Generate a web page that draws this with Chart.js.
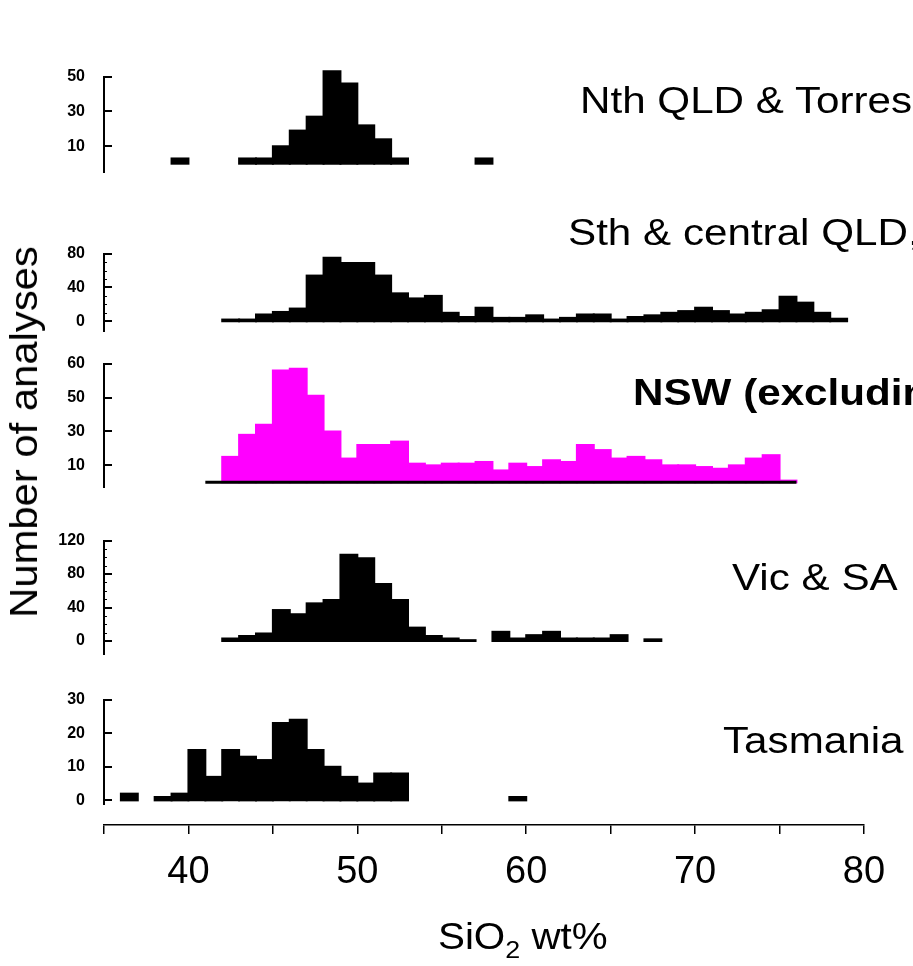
<!DOCTYPE html>
<html>
<head>
<meta charset="utf-8">
<script src="https://cdn.jsdelivr.net/npm/chart.js@4/dist/chart.umd.min.js"></script>
<style>
  body { margin: 0; width: 913px; height: 966px; overflow: hidden; background: #fff; position: relative;
         font-family: "Liberation Sans", Arial, Helvetica, sans-serif; color: #000; }
  canvas { position: absolute; left: 0; }
  .title { position: absolute; white-space: nowrap; font-size: 37px; line-height: 1;
           transform-origin: 0 0; transform: scaleX(1.14); }
  .bold { font-weight: bold; }
  #yTitle { position: absolute; left: 24px; top: 432px; white-space: nowrap; font-size: 38px; line-height: 1;
            transform-origin: 0 0; transform: rotate(-90deg) scaleX(1.1) translate(-50%, -50%); }
  #xTitle { position: absolute; left: 438px; top: 919px; white-space: nowrap; font-size: 36px; line-height: 1;
            transform-origin: 0 0; transform: scaleX(1.12); }
  #xTitle span { font-size: 24px; position: relative; top: 9px; }
</style>
</head>
<body>
<!-- y tick labels reserve ~21px above and below each plot area -->
<canvas id="nthChart" width="913" height="137" style="top:56px"></canvas>
<canvas id="sthChart" width="913" height="119" style="top:233px"></canvas>
<canvas id="nswChart" width="913" height="165" style="top:343px"></canvas>
<canvas id="vicChart" width="913" height="155" style="top:520px"></canvas>
<canvas id="tasChart" width="913" height="146" style="top:679px"></canvas>
<canvas id="axisChart" width="913" height="166" style="top:800px"></canvas>

<div class="title" style="left:580px; top:82px">Nth QLD &amp; Torres Strait</div>
<div class="title" style="left:568px; top:214px">Sth &amp; central QLD,</div>
<div class="title bold" style="left:633px; top:374px">NSW (excluding</div>
<div class="title" style="left:732px; top:559px">Vic &amp; SA</div>
<div class="title" style="left:723px; top:722px">Tasmania</div>
<div id="yTitle">Number of analyses</div>
<div id="xTitle">SiO<span>2</span> wt%</div>

<script>
// histogram bins are 1 wt% wide; each array holds the lower edge of a bin
const nthBins   = [39, 43, 44, 45, 46, 47, 48, 49, 50, 51, 52, 57];
const nthCounts = [3, 3, 3, 10, 19, 27, 53, 46, 22, 14, 3, 3];

const sthBins   = [42, 43, 44, 45, 46, 47, 48, 49, 50, 51, 52, 53, 54, 55, 56, 57, 58, 59, 60,
                   61, 62, 63, 64, 65, 66, 67, 68, 69, 70, 71, 72, 73, 74, 75, 76, 77, 78];
const sthCounts = [2, 2, 8, 11, 15, 54, 75, 69, 69, 54, 33, 27, 30, 10, 5, 16, 4, 4, 7,
                   2, 4, 8, 8, 2, 5, 7, 10, 12, 16, 12, 8, 10, 13, 29, 22, 10, 3];

const nswBins   = [42, 43, 44, 45, 46, 47, 48, 49, 50, 51, 52, 53, 54, 55, 56, 57, 58,
                   59, 60, 61, 62, 63, 64, 65, 66, 67, 68, 69, 70, 71, 72, 73, 74, 75];
const nswCounts = [15, 28, 34, 66, 67, 51, 30, 14, 22, 22, 24, 11, 10, 11, 11, 12, 7,
                   11, 9, 13, 12, 22, 19, 14, 15, 13, 10, 10, 9, 8, 10, 14, 16, 1];
const nswRange  = [41, 76];

const vicBins   = [42, 43, 44, 45, 46, 47, 48, 49, 50, 51, 52, 53, 54, 55, 56, 58, 59, 60, 61, 62, 63, 64, 65, 67];
const vicCounts = [3, 6, 9, 37, 32, 45, 49, 103, 99, 68, 49, 16, 6, 3, 1, 11, 3, 7, 11, 3, 3, 3, 7, 2];

const tasBins   = [36, 38, 39, 40, 41, 42, 43, 44, 45, 46, 47, 48, 49, 50, 51, 52, 59];
const tasCounts = [2, 1, 2, 15, 7, 15, 13, 12, 23, 24, 15, 10, 7, 5, 8, 8, 1];

// y tick values and the text printed beside them
const nthTicks = [10, 30, 50],       nthLabels = ['10', '30', '50'];
const sthTicks = [0, 40, 80],        sthLabels = ['0', '40', '80'];
const nswTicks = [10, 30, 50, 70],   nswLabels = ['10', '30', '50', '60'];
const vicTicks = [0, 40, 80, 120],   vicLabels = ['0', '40', '80', '120'];
const tasTicks = [0, 10, 20, 30],    tasLabels = ['0', '10', '20', '30'];
const sthMinor = [10, 20, 30, 50, 60, 70];
const vicMinor = [10, 20, 30, 50, 60, 70, 90, 100, 110];

const xMin = 35, xMax = 80;
const FONT = '"Liberation Sans", Arial, Helvetica, sans-serif';
Chart.defaults.font.family = FONT;
Chart.defaults.color = '#000';

// short tick marks pointing into the plot from the y axis
const innerTicks = {
    id: 'innerTicks',
    afterDraw(chart, args, opts) {
        const y = chart.scales.y;
        if (!y || !opts.major) return;
        const ctx = chart.ctx;
        const x0 = y.right;
        ctx.save();
        ctx.strokeStyle = '#000';
        ctx.lineWidth = 2;
        ctx.beginPath();
        opts.major.forEach(v => {
            const py = Math.round(y.getPixelForValue(v));
            ctx.moveTo(x0, py);
            ctx.lineTo(x0 + 8, py);
        });
        ctx.stroke();
        ctx.lineWidth = 1;
        ctx.beginPath();
        (opts.minor || []).forEach(v => {
            const py = Math.round(y.getPixelForValue(v)) + 0.5;
            ctx.moveTo(x0, py);
            ctx.lineTo(x0 + 3, py);
        });
        ctx.stroke();
        ctx.restore();
    }
};

function makePanel(canvasId, bins, counts, color, yMin, yMax, tickVals, tickLabels, minor, extraSets) {
    const datasets = [{
        type: 'bar',
        data: bins.map((b, i) => ({ x: b + 0.5, y: counts[i] })),
        backgroundColor: color,
        borderWidth: 0,
        barPercentage: 1,
        categoryPercentage: 1,
        inflateAmount: 1,
        clip: false,
        order: 1
    }].concat(extraSets || []);

    return new Chart(document.getElementById(canvasId), {
        type: 'bar',
        data: { datasets },
        plugins: [innerTicks],
        options: {
            responsive: false,
            animation: false,
            events: [],
            layout: { padding: { top: 0, bottom: 0, left: 0, right: 49 } },
            plugins: {
                legend: { display: false },
                tooltip: { enabled: false },
                innerTicks: { major: tickVals, minor: minor }
            },
            scales: {
                x: { type: 'linear', min: xMin, max: xMax, offset: false, display: false },
                y: {
                    type: 'linear',
                    min: yMin,
                    max: yMax,
                    afterFit: s => { s.width = 104; },
                    afterBuildTicks: s => { s.ticks = tickVals.map(v => ({ value: v })); },
                    grid: { display: false },
                    border: { display: true, color: '#000', width: 2 },
                    ticks: {
                        autoSkip: false,
                        padding: 11,
                        font: { size: 16, weight: 'bold' },
                        callback: (v, i) => tickLabels[i]
                    }
                }
            }
        }
    });
}

makePanel('nthChart', nthBins, nthCounts, '#000', -5, 50, nthTicks, nthLabels);
makePanel('sthChart', sthBins, sthCounts, '#000', -12, 80, sthTicks, sthLabels, sthMinor);
makePanel('nswChart', nswBins, nswCounts, '#ff00ff', -3, 70, nswTicks, nswLabels, [], [{
    type: 'line',
    data: nswRange.map(x => ({ x: x, y: 0 })),
    borderColor: '#000',
    borderWidth: 3,
    pointRadius: 0,
    clip: false,
    order: 0
}]);
makePanel('vicChart', vicBins, vicCounts, '#000', -16, 120, vicTicks, vicLabels, vicMinor);
makePanel('tasChart', tasBins, tasCounts, '#000', -1.2, 30, tasTicks, tasLabels);

// shared SiO2 axis under the panels
new Chart(document.getElementById('axisChart'), {
    type: 'scatter',
    data: { datasets: [] },
    options: {
        responsive: false,
        animation: false,
        events: [],
        layout: { padding: { top: 15, bottom: 0, left: 104, right: 49 } },
        plugins: { legend: { display: false }, tooltip: { enabled: false } },
        scales: {
            y: { display: false, min: 0, max: 1 },
            x: {
                type: 'linear',
                position: 'bottom',
                min: xMin,
                max: xMax,
                afterFit: s => { s.height = 141; },
                grid: { drawOnChartArea: false, drawTicks: true, tickLength: 9, color: '#000', lineWidth: 1.5 },
                border: { display: true, color: '#000', width: 1.5 },
                ticks: {
                    stepSize: 5,
                    autoSkip: false,
                    maxRotation: 0,
                    padding: 16,
                    font: { size: 38 },
                    callback: v => (v % 10 === 0 ? String(v) : '')
                }
            }
        }
    }
});
</script>
</body>
</html>
